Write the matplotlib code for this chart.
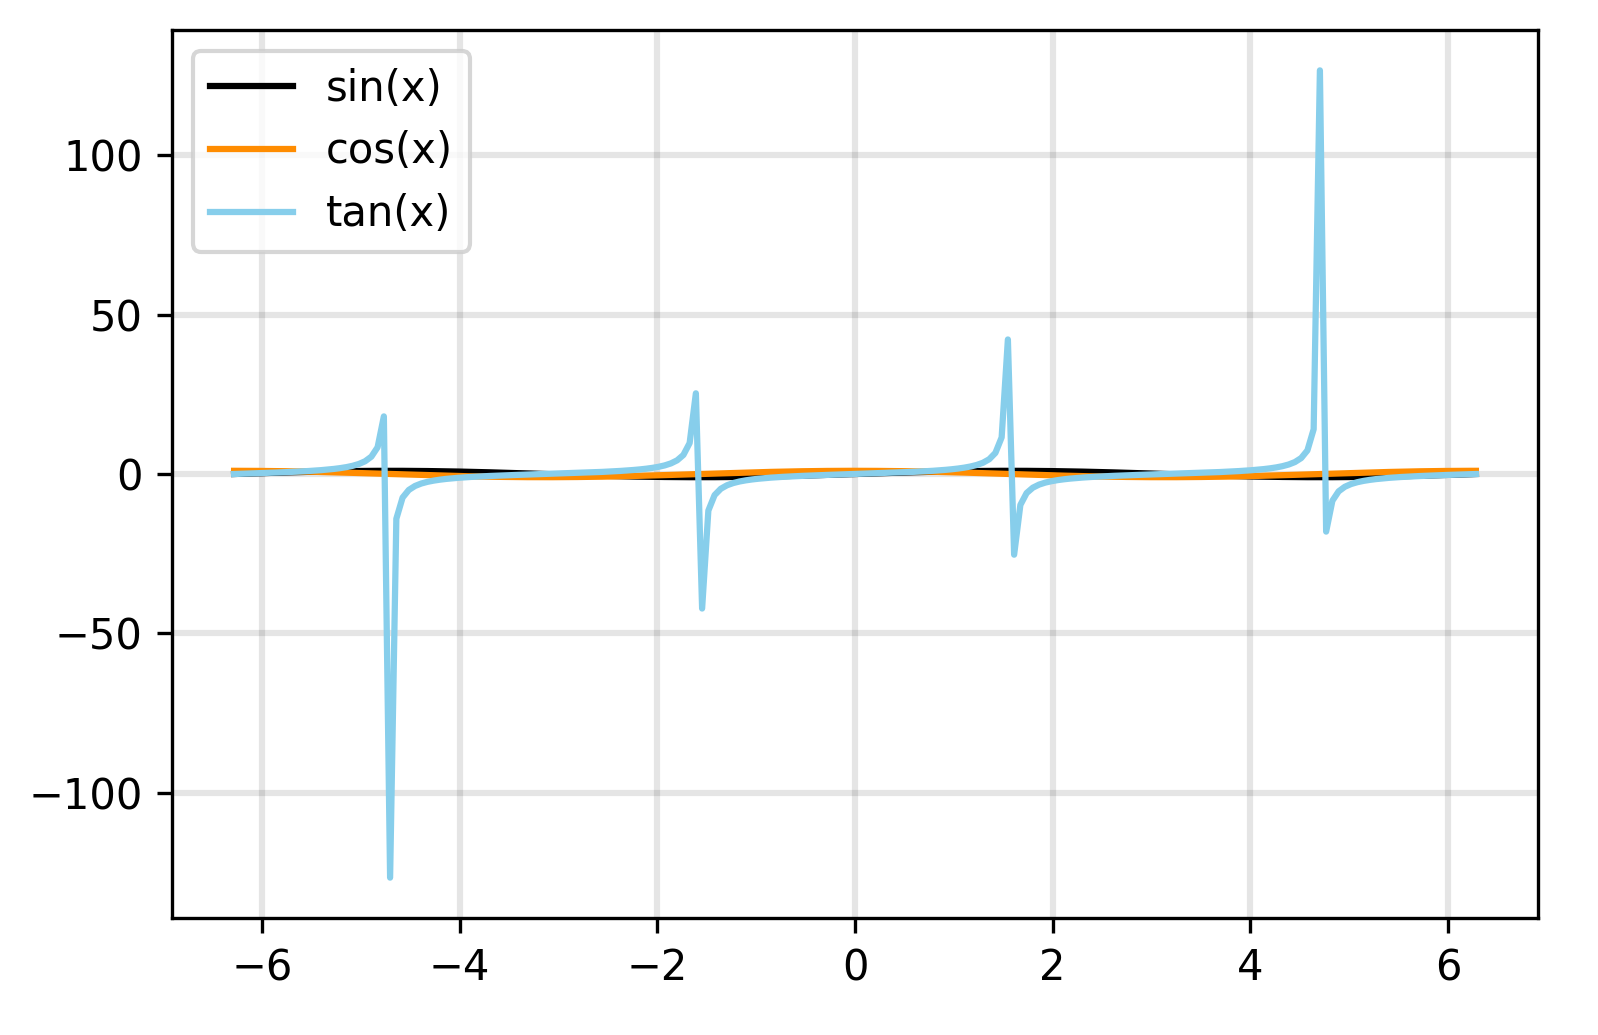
import numpy as np
import matplotlib
matplotlib.use("Agg")
import matplotlib.pyplot as plt

# Data: sampled trig functions
x_start, x_stop, n_points = -2 * np.pi, 2 * np.pi, 200
labels = ["sin(x)", "cos(x)", "tan(x)"]
colors = ["black", "darkorange", "skyblue"]

x = np.linspace(x_start, x_stop, n_points)
series = [np.sin(x), np.cos(x), np.tan(x)]

fig = plt.figure(figsize=(1598 / 300, 1035 / 300), dpi=300)
ax = fig.add_axes([172 / 1598, 1 - 918 / 1035, (1538 - 172) / 1598, (918 - 30) / 1035])

for y, lab, c in zip(series, labels, colors):
    ax.plot(x, y, color=c, label=lab, linewidth=1.5)

ax.grid(True, color="black", alpha=0.1, linewidth=1.5)
ax.set_xticks([-6, -4, -2, 0, 2, 4, 6])
ax.set_yticks([-100, -50, 0, 50, 100])
ax.legend(loc="upper left")

fig.savefig("out.png", dpi=300)
